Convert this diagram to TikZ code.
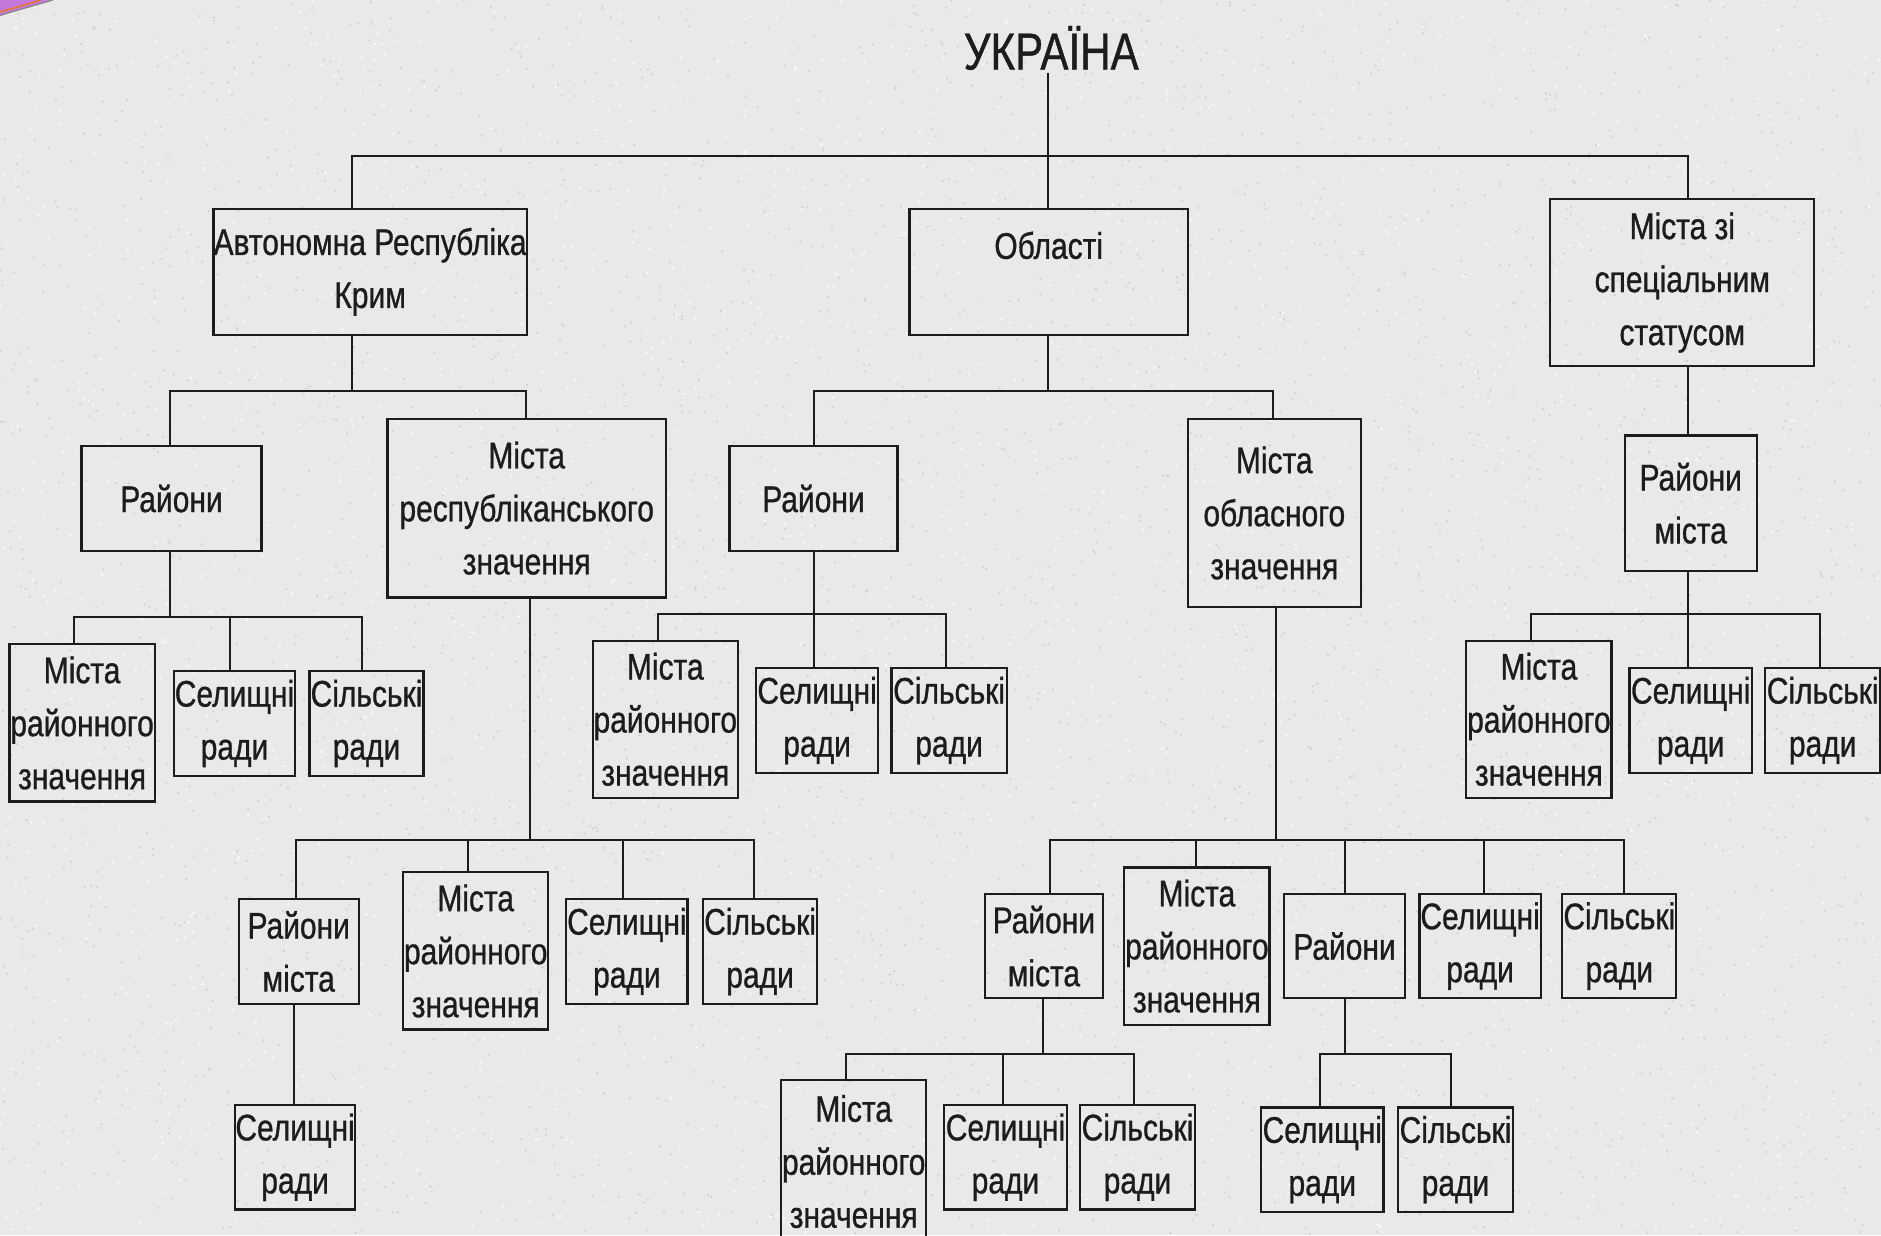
\documentclass[tikz,border=0pt]{standalone}
\usepackage{fontspec}
\setmainfont[FakeStretch=0.81,FakeBold=0.8]{Liberation Sans}
\definecolor{bg}{RGB}{233,233,233}
\definecolor{speck}{RGB}{208,208,208}
\definecolor{speckw}{RGB}{247,247,247}
\definecolor{ink}{RGB}{28,28,28}
\definecolor{deco}{RGB}{196,120,220}
\definecolor{decoline}{RGB}{230,120,40}
\newcommand\bx[6]{\node[box, anchor=north west, minimum width={(#4-#2)*1.2pt}, minimum height={(#5-#3)*1.2pt}] (#1) at (#2,#3) {#6};}
\newcommand\grp[6]{%
  \coordinate (#1-j) at (#2,#3);
  \coordinate (#1-l) at (#4,#3);
  \coordinate (#1-r) at (#5,#3);
  \draw[conn] (#1.south -| #1-j) -- (#1-j);
  \draw[conn] (#1-l) -- (#1-r);
  \foreach \c/\x in {#6} {\coordinate (#1-\c) at (\x,#3); \draw[conn] (#1-\c) -- (#1-\c |- \c.north);}
}
\begin{document}
\begin{tikzpicture}[x=1.2pt,y=-1.2pt,
  box/.style={draw=ink, line width=2.2pt, inner sep=0pt, align=center, text=ink, font=\fontsize{37}{53}\selectfont},
  conn/.style={draw=ink, line width=2pt, line cap=rect}]
\fill[bg] (0,0) rectangle (1567.5,1029.17);
\useasboundingbox (0,0) rectangle (1567.5,1029.17);
\pgfmathsetseed{11}
\foreach \i in {1,...,2500}{\fill[speckw] (rnd*1567,rnd*1029) circle (1.3);}
\foreach \i in {1,...,3000}{\fill[speck] (rnd*1567,rnd*1029) circle (1.0);}
% corner decoration
\fill[deco] (0,0) -- (44,0) .. controls (28,5) and (12,9) .. (0,13) -- cycle;
\draw[decoline, line width=1.5pt] (34,0) .. controls (22,4) and (10,7) .. (0,10);
\draw[gray, line width=1pt] (44,0) .. controls (28,5) and (12,9) .. (0,13);
% title
\node[text=ink, font=\fontsize{52}{60}\selectfont] (ukr) at (876,40) {УКРАЇНА};
% level 1
\bx{ark}{177}{173}{438}{278}{\raisebox{-5pt}{Автономна Республіка}\\\raisebox{-5pt}{Крим}}
\bx{obl}{757}{173}{989}{278}{Області\\~}
\bx{mss}{1291}{165}{1511}{304}{Міста зі\\спеціальним\\статусом}
% level 2
\bx{ra}{67}{371}{217}{458}{\raisebox{-4pt}{Райони}}
\bx{mrep}{322}{348}{554}{497}{Міста\\республіканського\\значення}
\bx{ro}{607}{371}{747}{458}{\raisebox{-8pt}{Райони}}
\bx{mobl}{989}{348}{1133}{505}{Міста\\обласного\\значення}
\bx{rms}{1353}{362}{1463}{475}{Райони\\міста}
% level 3
\bx{ma}{7}{536}{128}{667}{Міста\\районного\\значення}
\bx{sa}{144}{558}{245}{646}{Селищні\\ради}
\bx{ka}{257}{558}{352}{646}{Сільські\\ради}
\bx{mo}{493}{533}{614}{664}{Міста\\районного\\значення}
\bx{so}{629}{556}{731}{643}{Селищні\\ради}
\bx{ko}{742}{556}{838}{643}{Сільські\\ради}
\bx{ms}{1221}{533}{1342}{664}{Міста\\районного\\значення}
\bx{ss}{1357}{556}{1459}{643}{Селищні\\ради}
\bx{ks}{1470}{556}{1566}{643}{Сільські\\ради}
% level 4 (republic cities)
\bx{rmr}{198}{748}{298}{836}{Райони\\міста}
\bx{mr}{335}{726}{456}{857}{Міста\\районного\\значення}
\bx{sr}{471}{748}{572}{836}{Селищні\\ради}
\bx{kr}{585}{748}{680}{836}{Сільські\\ради}
\bx{srr}{195}{920}{295}{1007}{Селищні\\ради}
% level 4 (oblast cities)
\bx{rmo}{820}{744}{918}{831}{Райони\\міста}
\bx{mob}{936}{722}{1057}{853}{Міста\\районного\\значення}
\bx{rob}{1069}{744}{1170}{831}{Райони}
\bx{sob}{1182}{744}{1283}{831}{Селищні\\ради}
\bx{kob}{1301}{744}{1396}{831}{Сільські\\ради}
% level 5
\bx{mrm}{650}{899}{771}{1035}{Міста\\районного\\значення}
\bx{srm}{786}{920}{888}{1007}{Селищні\\ради}
\bx{krm}{899}{920}{995}{1007}{Сільські\\ради}
\bx{srob}{1050}{922}{1152}{1009}{Селищні\\ради}
\bx{krob}{1164}{922}{1260}{1009}{Сільські\\ради}
% connectors
\coordinate (t0) at (873,130);
\coordinate (t1) at (293,130);
\coordinate (t3) at (1407,130);
\draw[conn] (ukr.south -| t0) -- (t0);
\draw[conn] (t1) -- (t3);
\draw[conn] (t1) -- (t1 |- ark.north);
\draw[conn] (t0) -- (t0 |- obl.north);
\draw[conn] (t3) -- (t3 |- mss.north);
\grp{ark}{293}{326}{142}{438}{ra/142,mrep/438}
\grp{obl}{873}{326}{678}{1061}{ro/678,mobl/1061}
\grp{ra}{142}{514}{62}{302}{ma/62,sa/192,ka/302}
\grp{ro}{678}{512}{548}{788}{mo/548,so/678,ko/788}
\grp{mrep}{442}{700}{247}{628}{rmr/247,mr/390,sr/519,kr/628}
\grp{mobl}{1063}{700}{875}{1353}{rmo/875,mob/997,rob/1121,sob/1237,kob/1353}
\grp{rmo}{869}{878}{705}{945}{mrm/705,srm/836,krm/945}
\grp{rob}{1121}{878}{1100}{1209}{srob/1100,krob/1209}
\grp{rms}{1407}{512}{1276}{1517}{ms/1276,ss/1407,ks/1517}
\coordinate (c1) at (1407,0);
\draw[conn] (mss.south -| c1) -- (rms.north -| c1);
\coordinate (c2) at (245,0);
\draw[conn] (rmr.south -| c2) -- (srr.north -| c2);
\end{tikzpicture}
\end{document}
